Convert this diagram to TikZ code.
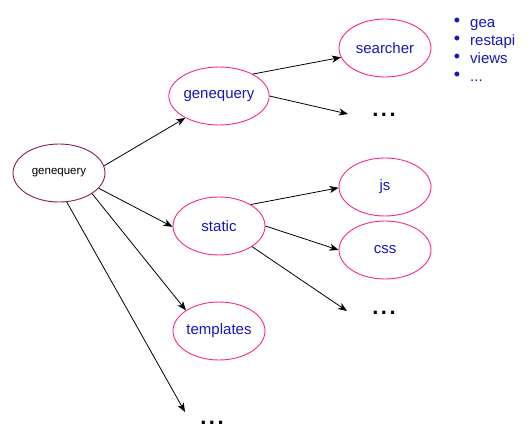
\documentclass[tikz,border=0pt]{standalone}
\usepackage{fontspec}
\setmainfont{Liberation Sans}
\usetikzlibrary{shapes.geometric,arrows.meta}
\definecolor{ellpink}{RGB}{245,40,140}
\definecolor{rootmag}{RGB}{140,25,90}
\definecolor{lblblue}{RGB}{22,22,190}
\tikzset{
  dirnode/.style={ellipse, draw=ellpink, line width=0.9pt, minimum width=92pt, minimum height=58pt, inner sep=0pt, text=lblblue, font=\fontsize{15}{18}\selectfont},
  rootnode/.style={ellipse, draw=rootmag, line width=0.9pt, minimum width=92pt, minimum height=58pt, inner sep=0pt, text=black, font=\fontsize{11.5}{14}\selectfont},
  link/.style={line width=0.8pt, -{Stealth[length=9pt,width=7pt,inset=2.5pt]}},
  moredots/.style={anchor=base, inner sep=0pt, font=\fontsize{22}{24}\bfseries\selectfont},
  bul/.style={inner sep=0pt, text=lblblue, font=\fontsize{18}{18}\selectfont},
  itemtxt/.style={anchor=base west, inner sep=0pt, text=lblblue, font=\fontsize{15}{18}\selectfont}
}
\begin{document}
\begin{tikzpicture}[x=1pt,y=-1pt]
\useasboundingbox (0,0) rectangle (531,442);
\node[rootnode] (root) at (59,173) {genequery};
\node[dirnode] (gq) at (219,96) {genequery};
\node[dirnode] (static) at (219,226) {static};
\node[dirnode] (tpl) at (219,331) {templates};
\node[dirnode] (search) at (385,48) {searcher};
\node[dirnode] (js) at (385,187) {js};
\node[dirnode] (css) at (385,250) {css};
\node[moredots] (d1) at (384,116.5) {.\hspace{2.5pt}.\hspace{2.5pt}.};
\node[moredots] (d2) at (384,314) {.\hspace{2.5pt}.\hspace{2.5pt}.};
\node[moredots] (d3) at (212,424) {.\hspace{2.5pt}.\hspace{2.5pt}.};
\coordinate (e1) at (348,114);
\coordinate (e2) at (347,311);
\coordinate (e3) at (185,412);
\draw[link] (root.9) -- (gq.213);
\draw[link] (root.-21) -- (static.181);
\draw[link] (root.-32) -- (tpl.148);
\draw[link] (root.-75) -- (e3);
\draw[link] (gq.33) -- (search.192);
\draw[link] (gq.0) -- (e1);
\draw[link] (static.34) -- (js.181);
\draw[link] (static.0) -- (css.180);
\draw[link] (static.-32) -- (e2);
\node[bul] (b1) at (457,22) {•};
\node[bul] (b2) at (457,40) {•};
\node[bul] (b3) at (457,58) {•};
\node[bul] (b4) at (457,76) {•};
\node[itemtxt] (t1) at (470,27) {gea};
\node[itemtxt] (t2) at (470,45) {restapi};
\node[itemtxt] (t3) at (470,63) {views};
\node[itemtxt] (t4) at (470,81) {...};
\end{tikzpicture}
\end{document}
